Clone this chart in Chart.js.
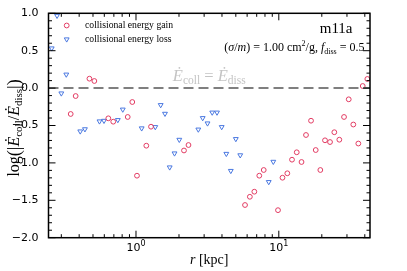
<!DOCTYPE html>
<html>
<head>
<meta charset="utf-8">
<script src="https://cdn.jsdelivr.net/npm/chart.js@4.4.1/dist/chart.umd.min.js"></script>
<style>
  html, body { margin: 0; padding: 0; background: #fff; }
  canvas { display: block; }
</style>
</head>
<body>
<canvas id="chart" width="407" height="271"></canvas>
<script>
// radius bins [kpc] and log ratios
const gainR = [0.349, 0.378, 0.472, 0.511, 0.640, 0.693, 0.875, 0.942, 1.016, 1.181, 1.274,
  2.168, 2.331, 5.80, 6.27, 6.74, 7.30, 7.84, 9.87, 10.61, 11.47, 12.37, 13.35, 14.42,
  15.50, 16.81, 18.13, 19.53, 21.06, 22.83, 24.47, 26.53, 28.62, 30.87, 33.24, 36.04, 38.68, 41.67];
const gainVal = [-0.346, -0.106, 0.126, 0.095, -0.404, -0.449, -0.386, -0.186, -1.171, -0.770, -0.516,
  -0.834, -0.761, -1.563, -1.453, -1.385, -1.171, -1.095, -1.632, -1.198, -1.139, -0.957, -0.858, -0.988,
  -0.627, -0.436, -0.828, -1.095, -0.698, -0.721, -0.590, -0.690, -0.386, -0.150, -0.487, -0.741, 0.028, 0.122];

const lossR = [0.257, 0.280, 0.300, 0.325, 0.407, 0.439, 0.555, 0.597, 0.746, 0.808, 1.096,
  1.365, 1.489, 1.596, 1.722, 1.861, 2.010, 2.731, 2.931, 3.168, 3.417, 3.692, 3.982,
  4.290, 4.612, 5.00, 5.37, 8.50, 9.15];
const lossVal = [0.532, 0.968, -0.070, 0.182, -0.578, -0.549, -0.444, -0.436, -0.426, -0.286, -0.537,
  -0.520, -0.226, -0.342, -1.059, -0.872, -0.690, -0.553, -0.400, -0.471, -0.326, -0.326, -0.520,
  -0.878, -1.106, -0.680, -0.897, -1.255, -0.984];

const xRange = [0.244, 43.5];
const yRange = [-2, 1];
const xMajor = [1, 10];
const xMajorLabels = [['10', '0'], ['10', '1']];
const xMinor = [0.3, 0.4, 0.5, 0.6, 0.7, 0.8, 0.9, 2, 3, 4, 5, 6, 7, 8, 9, 20, 30, 40];

const RED = '#e23c63';
const BLUE = '#4a78e0';
const SERIF = "'Liberation Serif', 'DejaVu Serif', serif";
const SANS = "'DejaVu Sans', sans-serif";

const pts = (xs, ys) => xs.map((x, i) => ({ x, y: ys[i] }));

// draw a row of text pieces (for sub/superscripts)
const drawRich = (ctx, segs, x, y, align) => {
  let total = 0;
  segs.forEach(s => { ctx.font = s.font; total += ctx.measureText(s.t).width; });
  let cx = align === 'center' ? x - total / 2 : align === 'right' ? x - total : x;
  ctx.textAlign = 'left';
  segs.forEach(s => {
    ctx.font = s.font;
    ctx.fillText(s.t, cx, y + (s.dy || 0));
    cx += ctx.measureText(s.t).width;
  });
};

const decor = {
  id: 'decor',
  afterDraw(chart) {
    const { ctx, chartArea: a, scales: { x, y } } = chart;
    ctx.save();
    ctx.strokeStyle = '#000';
    ctx.fillStyle = '#000';

    // ticks (inward, on all four sides)
    ctx.lineWidth = 1;
    const tickX = (v, len) => {
      const px = x.getPixelForValue(v);
      ctx.beginPath();
      ctx.moveTo(px, a.bottom); ctx.lineTo(px, a.bottom - len);
      ctx.moveTo(px, a.top); ctx.lineTo(px, a.top + len);
      ctx.stroke();
    };
    const tickY = (v, len) => {
      const py = y.getPixelForValue(v);
      ctx.beginPath();
      ctx.moveTo(a.left, py); ctx.lineTo(a.left + len, py);
      ctx.moveTo(a.right, py); ctx.lineTo(a.right - len, py);
      ctx.stroke();
    };
    xMinor.forEach(v => tickX(v, 3.5));
    xMajor.forEach(v => tickX(v, 7));
    for (let k = -20; k <= 10; k++) tickY(k / 10, k % 5 === 0 ? 7 : 3.5);

    // frame
    ctx.lineWidth = 1.5;
    ctx.strokeRect(a.left, a.top, a.right - a.left, a.bottom - a.top);

    // x tick labels
    ctx.textBaseline = 'alphabetic';
    xMajor.forEach((v, i) => {
      const px = x.getPixelForValue(v);
      drawRich(ctx, [
        { t: xMajorLabels[i][0], font: '11px ' + SANS },
        { t: xMajorLabels[i][1], font: '8px ' + SANS, dy: -5 }
      ], px, a.bottom + 13.5, 'center');
    });

    // axis labels
    drawRich(ctx, [
      { t: 'r', font: 'italic 14px ' + SERIF },
      { t: ' [kpc]', font: '14px ' + SERIF }
    ], (a.left + a.right) / 2, 263.5, 'center');

    ctx.save();
    ctx.translate(18.5, 128);
    ctx.rotate(-Math.PI / 2);
    drawRich(ctx, [
      { t: 'log', font: '16px ' + SERIF },
      { t: '(|', font: '18px ' + SERIF, dy: 1 },
      { t: 'Ė', font: 'italic 16px ' + SERIF },
      { t: 'coll', font: '11px ' + SERIF, dy: 3.5 },
      { t: '/', font: '16px ' + SERIF },
      { t: 'Ė', font: 'italic 16px ' + SERIF },
      { t: 'diss', font: '11px ' + SERIF, dy: 3.5 },
      { t: '|)', font: '18px ' + SERIF, dy: 1 }
    ], 0, 0, 'center');
    ctx.restore();

    // annotations
    ctx.fillStyle = '#c4c4c4';
    drawRich(ctx, [
      { t: 'Ė', font: 'italic 16.5px ' + SERIF },
      { t: 'coll', font: '11.5px ' + SERIF, dy: 3 },
      { t: ' = ', font: '16.5px ' + SERIF },
      { t: 'Ė', font: 'italic 16.5px ' + SERIF },
      { t: 'diss', font: '11.5px ' + SERIF, dy: 3 }
    ], (a.left + a.right) / 2, 80.5, 'center');

    ctx.fillStyle = '#000';
    drawRich(ctx, [{ t: 'm11a', font: '15px ' + SERIF }], 352.5, 33.3, 'right');
    drawRich(ctx, [
      { t: '(', font: '12px ' + SERIF },
      { t: 'σ', font: 'italic 12px ' + SERIF },
      { t: '/', font: '12px ' + SERIF },
      { t: 'm', font: 'italic 12px ' + SERIF },
      { t: ') = 1.00 cm', font: '12px ' + SERIF },
      { t: '2', font: '8px ' + SERIF, dy: -5 },
      { t: '/g, ', font: '12px ' + SERIF },
      { t: 'f', font: 'italic 12px ' + SERIF },
      { t: 'diss', font: '8px ' + SERIF, dy: 2.5 },
      { t: ' = 0.5', font: '12px ' + SERIF }
    ], 364.5, 51, 'right');

    // legend
    ctx.lineWidth = 1;
    ctx.strokeStyle = RED;
    ctx.beginPath();
    ctx.arc(66.7, 25.5, 2.4, 0, Math.PI * 2);
    ctx.stroke();
    ctx.strokeStyle = BLUE;
    const tr = 2.8, tx = 66.7, ty = 39.3;
    ctx.beginPath();
    ctx.moveTo(tx, ty + tr);
    ctx.lineTo(tx - tr * 0.866, ty - tr / 2);
    ctx.lineTo(tx + tr * 0.866, ty - tr / 2);
    ctx.closePath();
    ctx.stroke();
    ctx.fillStyle = '#000';
    ctx.textBaseline = 'middle';
    ctx.font = '9.7px ' + SERIF;
    ctx.fillText('collisional energy gain', 85, 25.5);
    ctx.fillText('collisional energy loss', 85, 39.3);
    ctx.restore();
  }
};

new Chart(document.getElementById('chart'), {
  type: 'scatter',
  data: {
    datasets: [
      {
        type: 'line',
        data: xRange.map(x => ({ x, y: 0 })),
        borderColor: '#7f7f7f',
        borderWidth: 2,
        borderDash: [10, 5],
        pointRadius: 0,
        fill: false
      },
      {
        label: 'collisional energy gain',
        data: pts(gainR, gainVal),
        pointStyle: 'circle',
        pointRadius: 2.4,
        borderWidth: 1,
        borderColor: RED,
        backgroundColor: 'rgba(0,0,0,0)'
      },
      {
        label: 'collisional energy loss',
        data: pts(lossR, lossVal),
        pointStyle: 'triangle',
        rotation: 180,
        pointRadius: 2.8,
        borderWidth: 1,
        borderColor: BLUE,
        backgroundColor: 'rgba(0,0,0,0)'
      }
    ]
  },
  options: {
    responsive: false,
    animation: false,
    devicePixelRatio: 1,
    layout: { padding: { left: 0, top: 13.3, right: 37, bottom: 0 } },
    plugins: { legend: { display: false }, tooltip: { enabled: false } },
    scales: {
      x: {
        type: 'logarithmic',
        min: xRange[0],
        max: xRange[1],
        grid: { display: false },
        border: { display: false },
        ticks: { display: false },
        afterFit: s => { s.height = 33.3; }
      },
      y: {
        min: yRange[0],
        max: yRange[1],
        grid: { display: false },
        border: { display: false },
        ticks: {
          stepSize: 0.5,
          padding: 2,
          color: '#000',
          font: { family: SANS, size: 11 },
          callback: v => (v < 0 ? '\u2212' : '') + Math.abs(v).toFixed(1)
        },
        afterFit: s => { s.width = 48.5; }
      }
    }
  },
  plugins: [decor]
});
</script>
</body>
</html>
